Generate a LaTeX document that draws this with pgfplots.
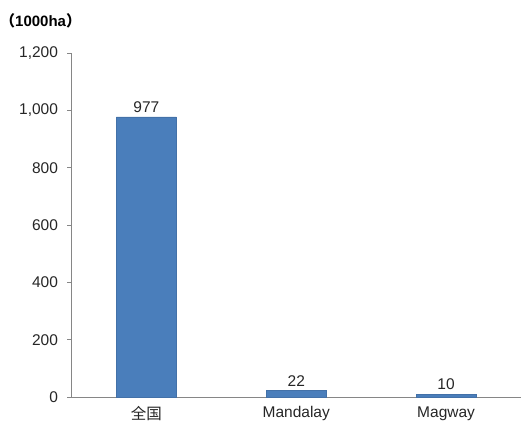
\documentclass[border=0pt]{standalone}
\usepackage{fontspec}
\setmainfont{Liberation Sans}
\newfontfamily\cjk{Noto Sans CJK SC}
\usepackage{pgfplots}
\pgfplotsset{compat=1.18}
\definecolor{barblue}{RGB}{74,126,187}
\definecolor{axisgrey}{RGB}{134,134,134}
\begin{document}
\begin{tikzpicture}[x=1pt,y=1pt]
\useasboundingbox (0,0) rectangle (521,423);
% unit caption above the value axis
\node[anchor=base west,inner sep=0pt,font=\fontsize{15}{17}\selectfont\bfseries] at (0,396) {{\cjk （}1000ha{\cjk ）}};
\begin{axis}[
  at={(71.5pt,26pt)}, anchor=south west,
  scale only axis, width=449.5pt, height=344pt,
  xmin=-0.5, xmax=2.5, ymin=0, ymax=1200,
  axis lines*=left,
  axis line style={axisgrey, line width=0.8pt},
  every tick/.style={axisgrey, line width=0.8pt},
  ytick={0,200,...,1200},
  tick align=outside, major tick length=4pt,
  xtick={0,1,2}, xticklabels={{\cjk 全国},Mandalay,Magway},
  x tick style={draw=none},
  % category separators on the x axis
  extra x ticks={-0.5,0.5,1.5,2.5}, extra x tick labels={},
  extra x tick style={tick style={axisgrey, line width=0.8pt}, major tick length=4pt},
  /pgf/number format/assume math mode=true,
  /pgf/number format/1000 sep={,},
  tick label style={font=\fontsize{15.5}{18}\selectfont, text=black!85},
  yticklabel style={xshift=-6pt},
  xticklabel style={yshift=-2pt},
  ybar, bar width=60pt,
  nodes near coords,
  every node near coord/.style={font=\fontsize{15.5}{18}\selectfont, text=black!85, yshift=1pt},
  clip=false,
]
\addplot[fill=barblue, draw=barblue!90!black, line width=0.4pt] coordinates {(0,977) (1,22) (2,10)};
\end{axis}
\end{tikzpicture}
\end{document}
